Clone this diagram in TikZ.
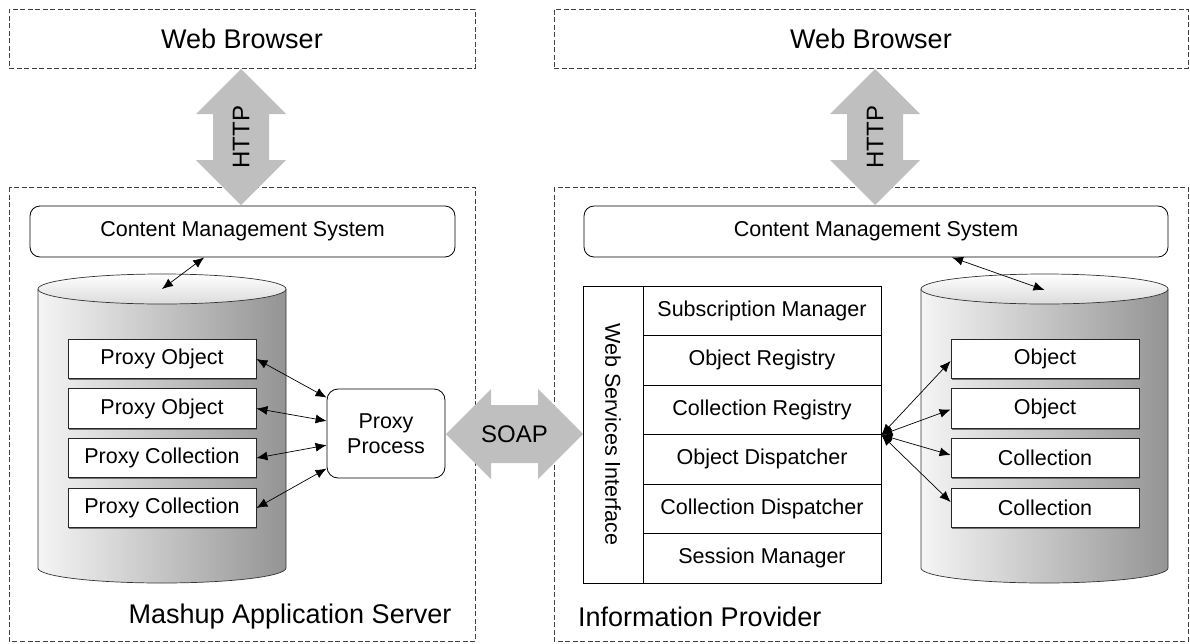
\documentclass[tikz,border=0pt]{standalone}
\usepackage{fontspec}
\setmainfont{Liberation Sans}
\usetikzlibrary{arrows.meta,calc,shadows}
\begin{document}
\begin{tikzpicture}[x=1pt,y=-1pt,
  dbox/.style={draw=black!75, line width=0.9pt, dash pattern=on 5pt off 2.5pt},
  bigtext/.style={font=\fontsize{27}{32}\selectfont},
  midtext/.style={font=\fontsize{24}{28}\selectfont},
  smalltext/.style={font=\fontsize{21.5}{25}\selectfont},
  wbbox/.style={dbox, bigtext, minimum height=59pt, inner sep=0pt},
  cmsbox/.style={draw=black, line width=0.8pt, rounded corners=10pt, fill=white, smalltext, minimum height=51pt, inner sep=0pt},
  itembox/.style={draw=black!85, line width=0.8pt, fill=white, smalltext, minimum width=188pt, minimum height=39.5pt, inner sep=0pt,
    drop shadow={shadow xshift=1.3pt, shadow yshift=-1.3pt, opacity=1, fill=black!55}},
  procbox/.style={draw=black, line width=0.8pt, rounded corners=11pt, fill=white, smalltext, minimum width=118pt, minimum height=89pt, inner sep=0pt, align=center},
  rowbox/.style={draw=black, line width=0.8pt, fill=white, smalltext, minimum width=238pt, minimum height=49.5pt, inner sep=0pt},
  bigarrow/.style={fill=black!25, draw=none},
  link/.style={draw=black, line width=0.7pt, {Latex[length=11pt,width=9pt]}-{Latex[length=11pt,width=9pt]}},
  cylline/.style={draw=black!80, line width=0.7pt}
]
\useasboundingbox (0,0) rectangle (1190,643);

% outer dashed boxes
\node[wbbox, minimum width=466pt] (wb1) at (242,38.5) {Web Browser};
\node[wbbox, minimum width=634pt] (wb2) at (871,38.5) {Web Browser};
\draw[dbox] (9,187) rectangle (475,641);
\draw[dbox] (554,187) rectangle (1188,641);

% HTTP arrows
\fill[bigarrow] (241,69) -- (286,114) -- (269,114) -- (269,160) -- (286,160) -- (241,205) -- (196,160) -- (213,160) -- (213,114) -- (196,114) -- cycle;
\node[midtext, rotate=90] (http1) at (241,137) {HTTP};
\fill[bigarrow] (875,69) -- (920,114) -- (903,114) -- (903,160) -- (920,160) -- (875,205) -- (830,160) -- (847,160) -- (847,114) -- (830,114) -- cycle;
\node[midtext, rotate=90] (http2) at (875,137) {HTTP};

% CMS boxes
\node[cmsbox, minimum width=425pt] (cms1) at (242.5,231.5) {Content Management System};
\node[cmsbox, minimum width=584pt] (cms2) at (876,231.5) {Content Management System};

% left cylinder
\shade[left color=black!4, right color=black!42] (38,289) -- (38,568) .. controls (38,576.3) and (93.5,583) .. (162,583) .. controls (230.5,583) and (286,576.3) .. (286,568) -- (286,289) -- cycle;
\draw[cylline] (38,289) -- (38,568) .. controls (38,576.3) and (93.5,583) .. (162,583) .. controls (230.5,583) and (286,576.3) .. (286,568) -- (286,289);
\shade[top color=white, bottom color=black!14] (162,289) ellipse [x radius=124pt, y radius=15pt];
\draw[cylline] (162,289) ellipse [x radius=124pt, y radius=15pt];
\coordinate (cyl1) at (162,289);

% right cylinder
\shade[left color=black!4, right color=black!42] (921,289) -- (921,568) .. controls (921,576.3) and (976.3,583) .. (1044.5,583) .. controls (1112.7,583) and (1168,576.3) .. (1168,568) -- (1168,289) -- cycle;
\draw[cylline] (921,289) -- (921,568) .. controls (921,576.3) and (976.3,583) .. (1044.5,583) .. controls (1112.7,583) and (1168,576.3) .. (1168,568) -- (1168,289);
\shade[top color=white, bottom color=black!14] (1044.5,289) ellipse [x radius=123.5pt, y radius=15pt];
\draw[cylline] (1044.5,289) ellipse [x radius=123.5pt, y radius=15pt];
\coordinate (cyl2) at (1044.5,290);

% proxy boxes
\node[itembox] (po1) at (162,359) {Proxy Object};
\node[itembox] (po2) at (162,408.5) {Proxy Object};
\node[itembox] (pc1) at (162,458) {Proxy Collection};
\node[itembox] (pc2) at (162,508) {Proxy Collection};
\node[procbox] (pp) at (386,433.5) {Proxy\\Process};

% objects
\node[itembox] (ob1) at (1045,359) {Object};
\node[itembox] (ob2) at (1045,408.5) {Object};
\node[itembox] (oc1) at (1045,458) {Collection};
\node[itembox] (oc2) at (1045,508) {Collection};

% web services stack
\node[draw=black, line width=0.8pt, fill=white, smalltext, rotate=-90, minimum width=297pt, minimum height=60pt, inner sep=0pt] (wsi) at (613,434.5) {Web Services Interface};
\node[rowbox] (r1) at (762,310.75) {Subscription Manager};
\node[rowbox] (r2) at (762,360.25) {Object Registry};
\node[rowbox] (r3) at (762,409.75) {Collection Registry};
\node[rowbox] (r4) at (762,459.25) {Object Dispatcher};
\node[rowbox] (r5) at (762,508.75) {Collection Dispatcher};
\node[rowbox] (r6) at (762,558.25) {Session Manager};

% SOAP arrow
\fill[bigarrow] (446,434) -- (491,389) -- (491,405) -- (538,405) -- (538,389) -- (583,434) -- (538,479) -- (538,463) -- (491,463) -- (491,479) -- cycle;
\node[midtext] (soap) at (514.5,434) {SOAP};

% connectors
\draw[link] ($(cms1.south west)!0.41!(cms1.south east)$) -- (cyl1);
\draw[link] ($(cms2.south west)!0.63!(cms2.south east)$) -- (cyl2);
\draw[link] (po1.east) -- ($(pp.north west)!0.1!(pp.south west)$);
\draw[link] (po2.east) -- ($(pp.north west)!0.36!(pp.south west)$);
\draw[link] (pc1.east) -- ($(pp.north west)!0.63!(pp.south west)$);
\draw[link] (pc2.east) -- ($(pp.north west)!0.89!(pp.south west)$);
\draw[link] (r3.south east) -- ($(ob1.west)+(0,2)$);
\draw[link] (r3.south east) -- ($(ob2.west)+(0,1)$);
\draw[link] (r3.south east) -- ($(oc1.west)+(0,-3)$);
\draw[link] (r3.south east) -- ($(oc2.west)+(0,-6)$);

% labels
\node[bigtext] (lab1) at (290,617) {Mashup Application Server};
\node[bigtext, anchor=west, inner sep=0pt] (lab2) at (578,617) {Information Provider};
\end{tikzpicture}
\end{document}
